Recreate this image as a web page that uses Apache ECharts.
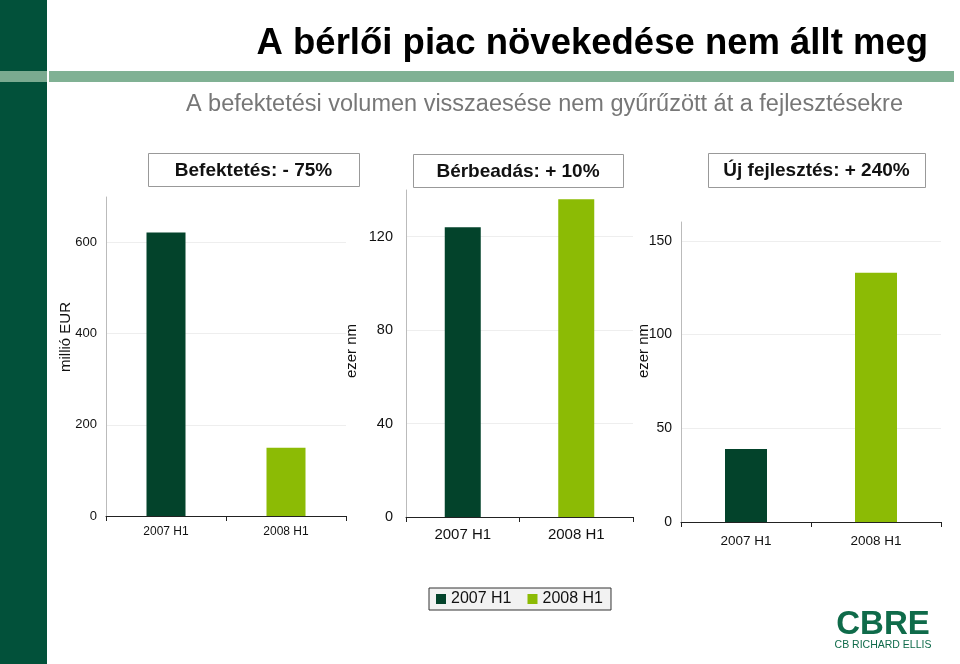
<!DOCTYPE html>
<html><head><meta charset="utf-8">
<script src="https://cdn.jsdelivr.net/npm/echarts@6/dist/echarts.min.js"></script>
<style>html,body{margin:0;padding:0;background:#fff}#c{width:960px;height:664px}</style>
</head><body><div id="c"></div>
<script>
const categories = ['2007 H1', '2008 H1'];
const seriesNames = ['2007 H1', '2008 H1'];
const investment = [622, 150];   // millió EUR
const leasing = [124, 136];      // ezer nm
const development = [39, 133];   // ezer nm
const boxTitles = ['Befektetés: - 75%', 'Bérbeadás: + 10%', 'Új fejlesztés: + 240%'];
const yNames = ['millió EUR', 'ezer nm', 'ezer nm'];
const yMax = [700, 140, 160];
const yInterval = [200, 40, 50];
const title = 'A bérlői piac növekedése nem állt meg';
const subtitle = 'A befektetési volumen visszaesése nem gyűrűzött át a fejlesztésekre';

const DARK = '#03432b', LIGHT = '#8cbb05';
const FONT = '"Liberation Sans", Arial, sans-serif';
const panels = [investment, leasing, development];
const grids = [
  {left: 106, top: 197, width: 240, height: 319},
  {left: 406, top: 190, width: 227, height: 327},
  {left: 681, top: 222, width: 260, height: 300}
];
const barW = [39, 36, 42];
const catFont = [12, 15, 13.5];
const catMargin = [10, 10, 12];
const valFont = [13, 14.5, 14];
const valMargin = [9, 13, 9];
const namePos = [[66, 337], [352, 351], [644, 351]];

const xAxis = [], yAxis = [], series = [];
panels.forEach((vals, i) => {
  xAxis.push({
    type: 'category', gridIndex: i, data: categories,
    axisLine: {lineStyle: {color: '#222', width: 1}},
    axisTick: {show: true, length: 5, lineStyle: {color: '#222'}},
    axisLabel: {color: '#111', fontSize: catFont[i], fontFamily: FONT, margin: catMargin[i]}
  });
  yAxis.push({
    type: 'value', gridIndex: i, min: 0, max: yMax[i], interval: yInterval[i],
    axisLine: {show: true, lineStyle: {color: '#bbb'}},
    axisTick: {show: false},
    axisLabel: {color: '#111', fontSize: valFont[i], fontFamily: FONT, margin: valMargin[i],
      formatter: v => (v % yInterval[i] === 0 ? String(v) : '')},
    splitLine: {show: true, lineStyle: {color: ['#eeeeee', '#eeeeee', '#eeeeee', '#eeeeee', 'rgba(0,0,0,0)']}}
  });
  seriesNames.forEach((sn, j) => {
    series.push({
      type: 'bar', name: sn, xAxisIndex: i, yAxisIndex: i, stack: 's' + i,
      barWidth: barW[i],
      itemStyle: {color: j === 0 ? DARK : LIGHT},
      data: vals.map((v, k) => (k === j ? v : '-'))
    });
  });
});

const graphic = [
  {type: 'rect', shape: {x: 0, y: 0, width: 47, height: 664}, style: {fill: '#02513a'}},
  {type: 'rect', shape: {x: 0, y: 71, width: 47, height: 11}, style: {fill: '#7aaa90'}},
  {type: 'rect', shape: {x: 49, y: 71, width: 905, height: 11}, style: {fill: '#80b194'}},
  {type: 'text', style: {text: title, x: 928, y: 44, align: 'right', verticalAlign: 'middle',
    font: 'bold 36.5px ' + FONT, fill: '#000'}},
  {type: 'text', style: {text: subtitle, x: 903, y: 105, align: 'right', verticalAlign: 'middle',
    font: '23.5px ' + FONT, fill: '#777'}}
];
const boxes = [[148, 153, 211, 33], [413, 154, 210, 33], [708, 153, 217, 34]];
boxes.forEach((b, i) => {
  graphic.push({type: 'rect', shape: {x: b[0] + 0.5, y: b[1] + 0.5, width: b[2], height: b[3]},
    style: {fill: '#fff', stroke: '#999', lineWidth: 1}});
  graphic.push({type: 'text', style: {text: boxTitles[i], x: b[0] + b[2] / 2, y: b[1] + b[3] / 2 + 1,
    align: 'center', verticalAlign: 'middle', font: 'bold 19px ' + FONT, fill: '#111'}});
});
yNames.forEach((n, i) => {
  graphic.push({type: 'text', x: namePos[i][0], y: namePos[i][1], rotation: Math.PI / 2,
    style: {text: n, align: 'center', verticalAlign: 'middle', font: '15px ' + FONT, fill: '#111'}});
});
graphic.push({type: 'text', style: {text: 'CBRE', x: 883, y: 625, align: 'center', verticalAlign: 'middle',
  font: 'bold 33px ' + FONT, fill: '#0f6b4a'}});
graphic.push({type: 'text', style: {text: 'CB RICHARD ELLIS', x: 883, y: 645, align: 'center', verticalAlign: 'middle',
  font: '10.5px ' + FONT, fill: '#0f6b4a'}});

const chart = echarts.init(document.getElementById('c'), null, {renderer: 'canvas'});
chart.setOption({
  animation: false,
  backgroundColor: '#fff',
  grid: grids.map(g => Object.assign({containLabel: false}, g)),
  xAxis, yAxis, series, graphic,
  legend: {
    data: seriesNames, left: 429, top: 588, orient: 'horizontal',
    backgroundColor: '#f2f2f2', borderColor: '#333', borderWidth: 1, padding: [3, 8, 3, 7],
    itemWidth: 10, itemHeight: 10, itemGap: 16, icon: 'rect',
    textStyle: {color: '#111', fontSize: 16, fontFamily: FONT}
  }
});
</script></body></html>
